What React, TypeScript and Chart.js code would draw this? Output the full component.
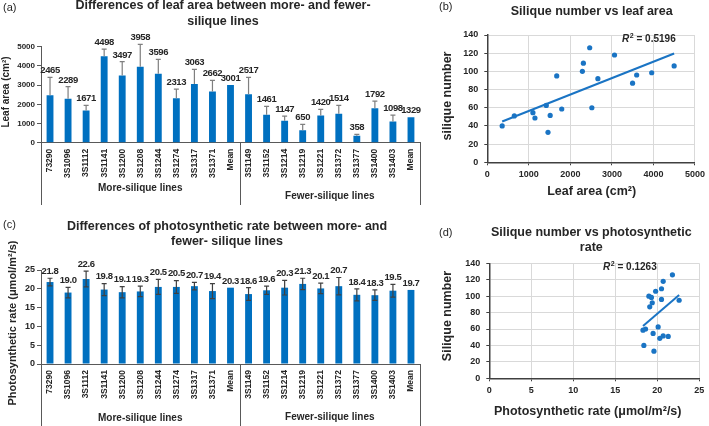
import React, { useEffect, useRef } from 'react';
import { Chart, registerables } from 'chart.js';
Chart.register(...registerables);

const FONT = '"Liberation Sans", Arial, Helvetica, sans-serif';
const BLUE = '#0070C0';
const DOT = '#1a74c4';
const TXT = '#262626';
const AXIS = '#595959';

// ---------- data ----------
const moreLines = ['73290', '3S1096', '3S1112', '3S1141', '3S1200', '3S1208', '3S1244', '3S1274', '3S1317', '3S1371', 'Mean'];
const fewerLines = ['3S1149', '3S1152', '3S1214', '3S1219', '3S1221', '3S1372', '3S1377', '3S1400', '3S1403', 'Mean'];

const leafAreaMore = [2465, 2289, 1671, 4498, 3497, 3958, 3596, 2313, 3063, 2662, 3001];
const leafAreaMoreErr = [938, 628, 273, 380, 722, 1163, 744, 482, 756, 585, 0];
const leafAreaFewer = [2517, 1461, 1147, 650, 1420, 1514, 358, 1792, 1098, 1329];
const leafAreaFewerErr = [886, 431, 242, 305, 316, 430, 76, 378, 343, 0];

const photoMore = [21.8, 19.0, 22.6, 19.8, 19.1, 19.3, 20.5, 20.5, 20.7, 19.4, 20.3];
const photoMoreErr = [1.0, 1.4, 2.1, 1.6, 1.5, 1.4, 2.0, 1.7, 1.0, 2.0, 0];
const photoFewer = [18.6, 19.6, 20.3, 21.3, 20.1, 20.7, 18.4, 18.3, 19.5, 19.7];
const photoFewerErr = [1.7, 1.1, 1.95, 1.5, 1.4, 2.3, 1.6, 1.4, 1.7, 0];

// silique number per line (same order as the lines, without the means)
const siliqueMore = [126, 100, 95, 106, 87, 98.5, 96, 109, 118, 92];
const siliqueFewer = [60, 33, 48.7, 51, 62.6, 51.6, 40, 58.6, 54.6];

const leafTicks = [0, 5000, 1000];
const photoTicks = [0, 25, 5];
const siliqueTicks = [0, 140, 20];
const leafScatterX = [0, 5000, 1000];
const photoScatterX = [0, 25, 5];

const r2Leaf = '0.5196';
const r2Photo = '0.1263';

// ---------- helpers ----------
function drawText(ctx: CanvasRenderingContext2D, s: string, x: number, y: number, font: string, align: CanvasTextAlign = 'center', rot = 0, color = TXT) {
  ctx.save();
  ctx.font = font;
  ctx.fillStyle = color;
  ctx.textAlign = align;
  ctx.textBaseline = 'middle';
  ctx.translate(x, y);
  if (rot) ctx.rotate(rot);
  ctx.fillText(s, 0, 0);
  ctx.restore();
}

function stripMeanFromPairs(vals: number[]) {
  return vals.slice(0, vals.length - 1);
}

function fit(xs: number[], ys: number[]) {
  const n = xs.length;
  const mx = xs.reduce((a, b) => a + b, 0) / n;
  const my = ys.reduce((a, b) => a + b, 0) / n;
  let sxy = 0, sxx = 0;
  for (let i = 0; i < n; i++) { sxy += (xs[i] - mx) * (ys[i] - my); sxx += (xs[i] - mx) ** 2; }
  const b = sxy / sxx;
  const a = my - b * mx;
  const x0 = Math.min(...xs), x1 = Math.max(...xs);
  return [{ x: x0, y: a + b * x0 }, { x: x1, y: a + b * x1 }];
}

type BarCfg = {
  w: number; h: number; left: number; right: number; top: number; bottom: number;
  values: number[]; errors: number[]; symmetric: boolean; errColor: string;
  ticks: number[]; tickFont: number; labelDigits: number;
  tag: string; tagY: number; titles: string[]; titleY: number[]; titleX: number;
  yTitle: string; yTitleX: number; yTitleY: number; yTitleFont: number;
  groupY: number[]; sepBottom: number;
};

function BarPanel({ cfg, x, y }: { cfg: BarCfg; x: number; y: number }) {
  const ref = useRef<HTMLCanvasElement>(null);
  useEffect(() => {
    const c = cfg;
    const labels = [...moreLines, ...fewerLines];
    const plugin = {
      id: 'barExtras',
      afterDatasetsDraw(chart: any) {
        const ctx = chart.ctx as CanvasRenderingContext2D;
        const meta = chart.getDatasetMeta(0);
        const ys = chart.scales.y;
        meta.data.forEach((bar: any, i: number) => {
          const v = c.values[i];
          const e = c.errors[i];
          let topY = bar.y;
          if (e > 0) {
            const yt = ys.getPixelForValue(v + e);
            const yb = c.symmetric ? ys.getPixelForValue(v - e) : bar.y;
            ctx.save();
            ctx.strokeStyle = c.errColor;
            ctx.lineWidth = 1.2;
            ctx.beginPath();
            ctx.moveTo(bar.x, yb); ctx.lineTo(bar.x, yt);
            ctx.moveTo(bar.x - 2.5, yt); ctx.lineTo(bar.x + 2.5, yt);
            if (c.symmetric) { ctx.moveTo(bar.x - 2.5, yb); ctx.lineTo(bar.x + 2.5, yb); }
            ctx.stroke();
            ctx.restore();
            topY = yt;
          }
          ctx.save();
          ctx.font = `bold 9.5px ${FONT}`;
          (ctx as any).letterSpacing = '-0.4px';
          ctx.fillStyle = TXT;
          ctx.textAlign = 'center';
          ctx.textBaseline = 'bottom';
          ctx.fillText(v.toFixed(c.labelDigits), bar.x, topY - 2);
          ctx.restore();
        });
      },
      afterDraw(chart: any) {
        const ctx = chart.ctx as CanvasRenderingContext2D;
        const a = chart.chartArea;
        const step = (a.right - a.left) / labels.length;
        const sep = a.left + step * moreLines.length;
        ctx.save();
        ctx.strokeStyle = AXIS;
        ctx.lineWidth = 1;
        ctx.beginPath();
        [a.left, sep, a.right].forEach((px) => {
          const p = Math.round(px) + 0.5;
          ctx.moveTo(p, a.bottom); ctx.lineTo(p, c.sepBottom);
        });
        ctx.stroke();
        ctx.restore();
        drawText(ctx, 'More-silique lines', (a.left + sep) / 2, c.groupY[0], `bold 10px ${FONT}`);
        drawText(ctx, 'Fewer-silique lines', (sep + a.right) / 2, c.groupY[1], `bold 10px ${FONT}`);
        drawText(ctx, c.tag, 3, c.tagY, `11px ${FONT}`, 'left');
        c.titles.forEach((t, i) => drawText(ctx, t, c.titleX, c.titleY[i], `bold 12.5px ${FONT}`));
        drawText(ctx, c.yTitle, c.yTitleX, c.yTitleY, `bold ${c.yTitleFont}px ${FONT}`, 'center', -Math.PI / 2);
      },
    };
    const chart = new Chart(ref.current!, {
      type: 'bar',
      data: {
        labels,
        datasets: [{ data: c.values, backgroundColor: BLUE, barPercentage: 0.38, categoryPercentage: 1 }],
      },
      options: {
        responsive: false,
        animation: false,
        layout: { padding: { top: c.top, right: c.w - c.right, left: 0, bottom: 0 } },
        plugins: { legend: { display: false }, tooltip: { enabled: false }, title: { display: false } },
        scales: {
          x: {
            grid: { display: false, drawTicks: false },
            border: { display: true, color: AXIS, width: 1 },
            ticks: { autoSkip: false, minRotation: 90, maxRotation: 90, padding: 6, color: TXT, font: { family: FONT, size: 8.5, weight: 'bold' } },
            afterFit: (s: any) => { s.height = c.h - c.bottom; },
          },
          y: {
            min: c.ticks[0], max: c.ticks[1],
            ticks: { stepSize: c.ticks[2], padding: 2, color: TXT, font: { family: FONT, size: c.tickFont, weight: 'bold' }, callback: (v: any) => String(v) },
            grid: { drawOnChartArea: false, drawTicks: true, tickLength: 4, color: AXIS },
            border: { display: true, color: AXIS, width: 1 },
            afterFit: (s: any) => { s.width = c.left; },
          },
        },
      } as any,
      plugins: [plugin],
    });
    return () => chart.destroy();
  }, []);
  return <canvas ref={ref} width={cfg.w} height={cfg.h} style={{ position: 'absolute', left: x, top: y, width: cfg.w, height: cfg.h }} />;
}

type ScCfg = {
  w: number; h: number; left: number; right: number; top: number; bottom: number;
  xs: number[]; ys: number[]; xTicks: number[]; yTicks: number[];
  tag: string; tagY: number; titles: string[]; titleY: number[]; titleX: number;
  xTitle: string; xTitleX: number; xTitleY: number;
  yTitle: string; yTitleX: number; yTitleY: number;
  r2: string; r2X: number; r2Y: number;
};

function ScatterPanel({ cfg, x, y }: { cfg: ScCfg; x: number; y: number }) {
  const ref = useRef<HTMLCanvasElement>(null);
  useEffect(() => {
    const c = cfg;
    const pts = c.xs.map((v, i) => ({ x: v, y: c.ys[i] }));
    const plugin = {
      id: 'scExtras',
      afterDraw(chart: any) {
        const ctx = chart.ctx as CanvasRenderingContext2D;
        drawText(ctx, c.tag, 7, c.tagY, `11px ${FONT}`, 'left');
        c.titles.forEach((t, i) => drawText(ctx, t, c.titleX, c.titleY[i], `bold 12.5px ${FONT}`));
        drawText(ctx, c.xTitle, c.xTitleX, c.xTitleY, `bold 12.5px ${FONT}`);
        drawText(ctx, c.yTitle, c.yTitleX, c.yTitleY, `bold 12.5px ${FONT}`, 'center', -Math.PI / 2);
        ctx.save();
        ctx.fillStyle = TXT;
        ctx.textBaseline = 'middle';
        ctx.textAlign = 'left';
        ctx.font = `italic bold 10px ${FONT}`;
        ctx.fillText('R', c.r2X, c.r2Y);
        const w = ctx.measureText('R').width;
        ctx.font = `bold 7px ${FONT}`;
        ctx.fillText('2', c.r2X + w + 0.5, c.r2Y - 3);
        ctx.font = `bold 10px ${FONT}`;
        ctx.fillText(' = ' + c.r2, c.r2X + w + 4.5, c.r2Y);
        ctx.restore();
      },
    };
    const tickFont = { family: FONT, size: 9, weight: 'bold' };
    const chart = new Chart(ref.current!, {
      type: 'scatter',
      data: {
        datasets: [
          { data: fit(c.xs, c.ys), showLine: true, borderColor: DOT, borderWidth: 2, pointRadius: 0, order: 1 },
          { data: pts, backgroundColor: DOT, borderColor: DOT, pointRadius: 2.6, borderWidth: 0, order: 0 },
        ],
      },
      options: {
        responsive: false,
        animation: false,
        layout: { padding: { top: c.top, right: c.w - c.right, left: 0, bottom: 0 } },
        plugins: { legend: { display: false }, tooltip: { enabled: false }, title: { display: false } },
        scales: {
          x: {
            type: 'linear', min: c.xTicks[0], max: c.xTicks[1],
            ticks: { stepSize: c.xTicks[2], padding: 4, color: TXT, font: tickFont, callback: (v: any) => String(v) },
            grid: { color: '#d9d9d9', tickColor: '#404040', tickLength: 3, lineWidth: 1 },
            border: { display: true, color: '#404040', width: 1.5 },
            afterFit: (s: any) => { s.height = c.h - c.bottom; },
          },
          y: {
            type: 'linear', min: c.yTicks[0], max: c.yTicks[1],
            ticks: { stepSize: c.yTicks[2], padding: 6, color: TXT, font: tickFont, callback: (v: any) => String(v) },
            grid: { color: '#d9d9d9', tickColor: '#404040', tickLength: 3, lineWidth: 1 },
            border: { display: true, color: '#404040', width: 1.5 },
            afterFit: (s: any) => { s.width = c.left; },
          },
        },
      } as any,
      plugins: [plugin],
    });
    return () => chart.destroy();
  }, []);
  return <canvas ref={ref} width={cfg.w} height={cfg.h} style={{ position: 'absolute', left: x, top: y, width: cfg.w, height: cfg.h }} />;
}

const siliqueAll = [...siliqueMore, ...siliqueFewer];
const leafAll = [...stripMeanFromPairs(leafAreaMore), ...stripMeanFromPairs(leafAreaFewer)];
const photoAll = [...stripMeanFromPairs(photoMore), ...stripMeanFromPairs(photoFewer)];

const cfgA: BarCfg = {
  w: 432, h: 213, left: 41, right: 420, top: 46.7, bottom: 142.7,
  values: [...leafAreaMore, ...leafAreaFewer], errors: [...leafAreaMoreErr, ...leafAreaFewerErr],
  symmetric: false, errColor: '#7f7f7f', ticks: leafTicks, tickFont: 8, labelDigits: 0,
  tag: '(a)', tagY: 8, titles: ['Differences of leaf area between more- and fewer-', 'silique lines'], titleY: [6, 22], titleX: 223,
  yTitle: 'Leaf area (cm²)', yTitleX: 6, yTitleY: 92, yTitleFont: 10,
  groupY: [188.5, 196], sepBottom: 205,
};

const cfgC: BarCfg = {
  w: 432, h: 213, left: 41, right: 420, top: 57, bottom: 151,
  values: [...photoMore, ...photoFewer], errors: [...photoMoreErr, ...photoFewerErr],
  symmetric: true, errColor: '#404040', ticks: photoTicks, tickFont: 9, labelDigits: 1,
  tag: '(c)', tagY: 12, titles: ['Differences of photosynthetic rate between more- and', 'fewer- silique lines'], titleY: [14, 29], titleX: 227,
  yTitle: 'Photosynthetic rate (μmol/m²/s)', yTitleX: 13, yTitleY: 110, yTitleFont: 11,
  groupY: [205, 204], sepBottom: 213,
};

const cfgB: ScCfg = {
  w: 277, h: 213, left: 55.3, right: 265.7, top: 35, bottom: 162.3,
  xs: leafAll, ys: siliqueAll, xTicks: leafScatterX, yTicks: siliqueTicks,
  tag: '(b)', tagY: 7, titles: ['Silique number vs leaf area'], titleY: [11.7], titleX: 159.7,
  xTitle: 'Leaf area (cm²)', xTitleX: 159.7, xTitleY: 192,
  yTitle: 'silique number', yTitleX: 16, yTitleY: 96,
  r2: r2Leaf, r2X: 190, r2Y: 39.3,
};

const cfgD: ScCfg = {
  w: 277, h: 213, left: 57.3, right: 267.3, top: 50.3, bottom: 165.3,
  xs: photoAll, ys: siliqueAll, xTicks: photoScatterX, yTicks: siliqueTicks,
  tag: '(d)', tagY: 20, titles: ['Silique number vs photosynthetic', 'rate'], titleY: [20, 34.7], titleX: 159.3,
  xTitle: 'Photosynthetic rate (μmol/m²/s)', xTitleX: 155.7, xTitleY: 198.7,
  yTitle: 'Silique number', yTitleX: 16, yTitleY: 103,
  r2: r2Photo, r2X: 171, r2Y: 54,
};

export default function App() {
  useEffect(() => {
    document.body.style.margin = '0';
  }, []);
  return (
    <div style={{ position: 'relative', width: 709, height: 426, background: '#fff', overflow: 'hidden' }}>
      <BarPanel cfg={cfgA} x={0} y={0} />
      <ScatterPanel cfg={cfgB} x={432} y={0} />
      <BarPanel cfg={cfgC} x={0} y={213} />
      <ScatterPanel cfg={cfgD} x={432} y={213} />
    </div>
  );
}
